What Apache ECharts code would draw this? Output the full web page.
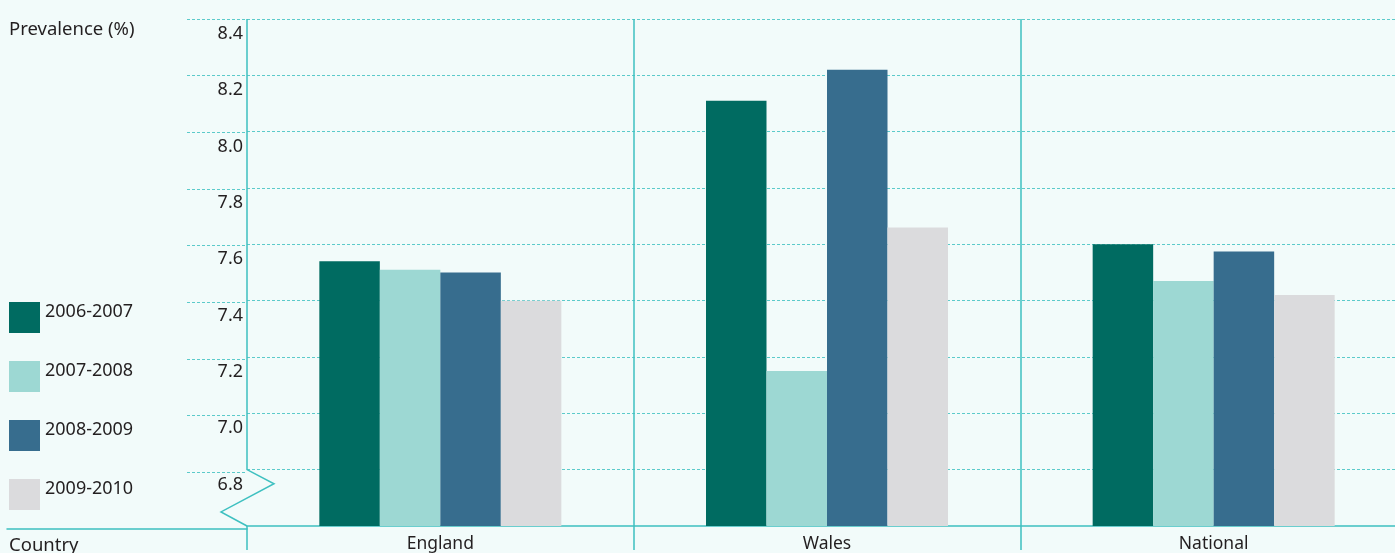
<!DOCTYPE html>
<html>
<head>
<meta charset="utf-8">
<script src="https://cdn.jsdelivr.net/npm/echarts@6/dist/echarts.min.js"></script>
<style>
html,body{margin:0;padding:0;background:#f2fbfa;overflow:hidden;}
#c{width:1407px;height:553px;}
</style>
</head>
<body>
<div id="c"></div>
<script>
const categories = ['England', 'Wales', 'National'];
const seriesNames = ['2006-2007', '2007-2008', '2008-2009', '2009-2010'];
const v2006_2007 = [7.54, 8.11, 7.60];
const v2007_2008 = [7.51, 7.15, 7.47];
const v2008_2009 = [7.50, 8.22, 7.575];
const v2009_2010 = [7.40, 7.66, 7.42];
const yMin = 6.6, yMax = 8.4, yStep = 0.2;
const breakValue = 6.8;

const colors = ['#006b61', '#9dd8d3', '#376d8e', '#dbdbdd'];
const values = [v2006_2007, v2007_2008, v2008_2009, v2009_2010];
const teal = '#3ec0c0';
const dashColor = '#5ccaca';
const textColor = '#231f20';
const font = 'Noto Sans';

const PLOT_LEFT = 247, PLOT_TOP = 19, PLOT_BOTTOM = 24;

const chart = echarts.init(document.getElementById('c'), null, {renderer: 'canvas'});
const option = {
  backgroundColor: '#f2fbfa',
  animation: false,
  textStyle: {fontFamily: font, color: textColor},
  title: [
    {text: 'Prevalence (%)', left: 9, top: 20, padding: 0, textStyle: {fontFamily: font, fontSize: 18.5, fontWeight: 'normal', color: textColor}},
    {text: 'Country', left: 9, top: 536, padding: 0, textStyle: {fontFamily: font, fontSize: 18.5, fontWeight: 'normal', color: textColor}}
  ],
  legend: {
    orient: 'vertical', left: 9, top: 302, padding: 0,
    itemWidth: 31, itemHeight: 31, itemGap: 28,
    icon: 'rect',
    data: seriesNames,
    formatter: '{a|{name}}',
    textStyle: {fontFamily: font, fontSize: 18, color: textColor,
      rich: {a: {fontFamily: font, fontSize: 18, color: textColor, padding: [0, 0, 12, 0]}}},
    selectedMode: false
  },
  grid: [
    {left: 7, width: PLOT_LEFT - 7, top: PLOT_TOP, bottom: PLOT_BOTTOM},
    {left: 187, width: PLOT_LEFT - 187, top: PLOT_TOP, bottom: PLOT_BOTTOM},
    {left: PLOT_LEFT, right: 0, top: PLOT_TOP, bottom: PLOT_BOTTOM}
  ],
  xAxis: [
    {gridIndex: 0, type: 'category', data: [''], axisLine: {show: true, lineStyle: {color: teal, width: 1.5}}, axisTick: {show: false}, axisLabel: {show: false}, splitLine: {show: false}},
    {gridIndex: 1, type: 'category', data: [''], show: false},
    {gridIndex: 2, type: 'category', data: categories,
      axisLine: {show: true, lineStyle: {color: teal, width: 1.5}},
      axisTick: {show: true, length: 24, lineStyle: {color: teal, width: 1.5}},
      axisLabel: {fontFamily: font, fontSize: 17.5, color: textColor, margin: 9},
      splitLine: {show: true, showMinLine: false, lineStyle: {color: teal, width: 1.5}}
    }
  ],
  yAxis: [
    {gridIndex: 0, type: 'value', min: yMin, max: yMax, interval: yStep, show: false},
    {gridIndex: 1, type: 'value', min: yMin, max: yMax, interval: yStep,
      axisLine: {show: false}, axisTick: {show: false}, axisLabel: {show: false},
      splitLine: {show: true, showMinLine: false, lineStyle: {color: dashColor, type: [3, 2], width: 1}}},
    {gridIndex: 2, type: 'value', min: yMin, max: yMax, interval: yStep,
      axisLine: {show: false}, axisTick: {show: false},
      axisLabel: {show: true, showMinLabel: false, fontFamily: font, fontSize: 18, color: textColor, margin: 4,
        verticalAlign: 'top', padding: [6, 0, 0, 0],
        formatter: v => v.toFixed(1)},
      splitLine: {show: true, showMinLine: false, lineStyle: {color: dashColor, type: [3, 2], width: 1}}}
  ],
  series: seriesNames.map((name, i) => ({
    name: name, type: 'bar', xAxisIndex: 2, yAxisIndex: 2,
    data: values[i], barWidth: 60.5, barGap: '0%',
    itemStyle: {color: colors[i]}
  }))
};
chart.setOption(option);

// axis break symbol on the left axis line (decoration derived from axis scale)
const yTop = chart.convertToPixel({yAxisIndex: 2}, yMax);
const yBreak = chart.convertToPixel({yAxisIndex: 2}, breakValue);
const yBase = chart.convertToPixel({yAxisIndex: 2}, yMin);
const h = yBase - yBreak;
chart.setOption({
  graphic: [{
    type: 'polyline', silent: true,
    shape: {points: [
      [PLOT_LEFT, yTop], [PLOT_LEFT, yBreak],
      [PLOT_LEFT + 27, yBreak + h * 0.25],
      [PLOT_LEFT - 26, yBreak + h * 0.75],
      [PLOT_LEFT, yBase]
    ]},
    style: {stroke: teal, lineWidth: 1.5, fill: null}
  }]
});
</script>
</body>
</html>
